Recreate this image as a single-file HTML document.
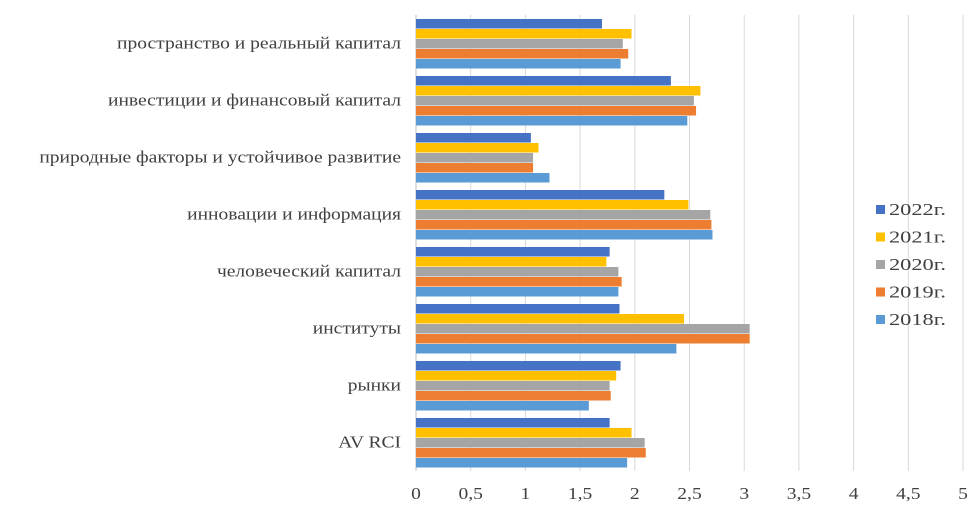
<!DOCTYPE html>
<html><head><meta charset="utf-8"><style>
html,body{margin:0;padding:0;background:#fff;}
svg{display:block;font-family:"Liberation Serif",serif;}
</style></head><body>
<svg id="chart" width="975" height="518"></svg>
<script>
const categories=["пространство и реальный капитал","инвестиции и финансовый капитал","природные факторы и устойчивое развитие","инновации и информация","человеческий капитал","институты","рынки","AV RCI"];
const seriesNames=["2022г.","2021г.","2020г.","2019г.","2018г."];
const s2022=[1.70,2.33,1.05,2.27,1.77,1.86,1.87,1.77];
const s2021=[1.97,2.60,1.12,2.49,1.74,2.45,1.83,1.97];
const s2020=[1.89,2.54,1.07,2.69,1.85,3.05,1.77,2.09];
const s2019=[1.94,2.56,1.07,2.70,1.88,3.05,1.78,2.10];
const s2018=[1.87,2.48,1.22,2.71,1.85,2.38,1.58,1.93];
const ticks=[0,0.5,1,1.5,2,2.5,3,3.5,4,4.5,5];
const tickLabels=["0","0,5","1","1,5","2","2,5","3","3,5","4","4,5","5"];
const colors=["#4472C4","#FFC000","#A5A5A5","#ED7D31","#5B9BD5"];
const series=[s2022,s2021,s2020,s2019,s2018];
const NS="http://www.w3.org/2000/svg";
const svgEl=document.getElementById('chart');
const x0=416,x1=963,plotTop=15,groupH=57,barH=10,barOff=4;
const xs=v=>x0+(v/5)*(x1-x0);
function mk(t,a){const e=document.createElementNS(NS,t);for(const k in a)e.setAttribute(k,a[k]);svgEl.appendChild(e);return e;}
ticks.forEach((t,i)=>{
 const g=mk('line',{x1:xs(t),x2:xs(t),y1:plotTop,y2:plotTop+groupH*8,stroke:i==0?'#bfbfbf':'#d9d9d9','stroke-width':1});
 
 
 const l=mk('text',{x:0,y:0,transform:`translate(${xs(t)},499) scale(1.15,1)`,'text-anchor':'middle','font-size':17,fill:'#404040'});
 l.textContent=tickLabels[i];
 
 
});
categories.forEach((c,i)=>{
 const gy=plotTop+i*groupH;
 const l=mk('text',{x:0,y:0,transform:`translate(401,${gy+groupH/2+5}) scale(1.15,1)`,'text-anchor':'end','font-size':17,fill:'#404040'});
 l.textContent=c;
 
 
 series.forEach((s,j)=>{
  const r=mk('rect',{x:x0,y:gy+barOff+j*barH,width:xs(s[i])-x0,height:barH-0.5,fill:colors[j]});
  
  
 });
});
seriesNames.forEach((n,j)=>{
 const y=210+j*27.5;
 const r=mk('rect',{x:876,y:y-5,width:9,height:9,fill:colors[j]});
 
 
 const t=mk('text',{x:889,y:y+5,'font-size':17,fill:'#404040',textLength:57,lengthAdjust:'spacingAndGlyphs'});
 t.textContent=n;
 
 
});
</script>
</body></html>
